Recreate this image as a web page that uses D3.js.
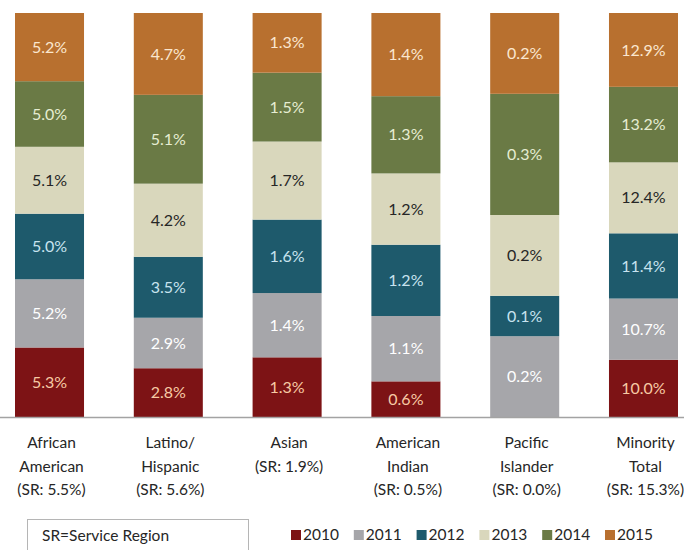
<!DOCTYPE html>
<html lang="en">
  <head>
    <meta charset="UTF-8" />
    <title>Minority share by year</title>
    <script src="https://d3js.org/d3.v7.min.js"></script>
    <style>
      body { margin: 0; background: #fff; }
      text { font-family: Lato, "Open Sans", sans-serif; }
    </style>
  </head>
  <body>
    <svg id="chart" width="684" height="550"></svg>

    <script>
      // Data
      const categories = ["African American", "Latino/Hispanic", "Asian", "American Indian", "Pacific Islander", "Minority Total"];
      const categoryLines = [
        ["African", "American", "(SR: 5.5%)"],
        ["Latino/", "Hispanic", "(SR: 5.6%)"],
        ["Asian", "(SR: 1.9%)"],
        ["American", "Indian", "(SR: 0.5%)"],
        ["Pacific", "Islander", "(SR: 0.0%)"],
        ["Minority", "Total", "(SR: 15.3%)"]
      ];
      const years = ["2010", "2011", "2012", "2013", "2014", "2015"];
      const v2010 = [5.3, 2.8, 1.3, 0.6, 0.0, 10.0];
      const v2011 = [5.2, 2.9, 1.4, 1.1, 0.2, 10.7];
      const v2012 = [5.0, 3.5, 1.6, 1.2, 0.1, 11.4];
      const v2013 = [5.1, 4.2, 1.7, 1.2, 0.2, 12.4];
      const v2014 = [5.0, 5.1, 1.5, 1.3, 0.3, 13.2];
      const v2015 = [5.2, 4.7, 1.3, 1.4, 0.2, 12.9];
      const seriesValues = [v2010, v2011, v2012, v2013, v2014, v2015];

      const colors = ["#7d1315", "#a6a6aa", "#1e5a6c", "#d9d7bc", "#6a7a45", "#b8702f"];
      const labelColors = ["#f7caa4", "#ffffff", "#c8e3ef", "#262626", "#e6edd2", "#fbe7cf"];

      const width = 684, height = 550;
      const svg = d3.select("#chart");

      // table for the stack
      const table = categories.map((c, i) => {
        const row = { category: c };
        years.forEach((y, j) => (row[y] = seriesValues[j][i]));
        return row;
      });

      const stack = d3.stack().keys(years).offset(d3.stackOffsetExpand);
      const series = stack(table);

      const x = d3.scaleBand().domain(categories).range([15, 678]).paddingInner(0.419).paddingOuter(0);
      const y = d3.scaleLinear().domain([0, 1]).range([417, 13]);

      // bars
      const groups = svg
        .selectAll(".series")
        .data(series)
        .enter()
        .append("g")
        .attr("class", "series");

      groups
        .selectAll("rect")
        .data((s, i) => s.map((d) => ({ d, i, key: s.key })))
        .enter()
        .append("rect")
        .attr("x", (p) => x(p.d.data.category))
        .attr("y", (p) => y(p.d[1]))
        .attr("width", x.bandwidth())
        .attr("height", (p) => y(p.d[0]) - y(p.d[1]))
        .attr("fill", (p) => colors[p.i]);

      // value labels
      groups
        .selectAll("text")
        .data((s, i) => s.map((d) => ({ d, i, key: s.key })).filter((p) => p.d.data[p.key] > 0))
        .enter()
        .append("text")
        .attr("x", (p) => x(p.d.data.category) + x.bandwidth() / 2)
        .attr("y", (p) => (y(p.d[0]) + y(p.d[1])) / 2)
        .attr("dy", "0.35em")
        .attr("text-anchor", "middle")
        .attr("font-size", 16)
        .attr("fill", (p) => labelColors[p.i])
        .text((p) => p.d.data[p.key].toFixed(1) + "%");

      // baseline
      svg
        .append("line")
        .attr("x1", 0)
        .attr("x2", width)
        .attr("y1", y(0) + 0.5)
        .attr("y2", y(0) + 0.5)
        .attr("stroke", "#a3a3a3")
        .attr("stroke-width", 1.5);

      // category labels
      const catText = svg
        .selectAll(".cat")
        .data(categories)
        .enter()
        .append("text")
        .attr("class", "cat")
        .attr("text-anchor", "middle")
        .attr("font-size", 15.5)
        .attr("fill", "#262626");
      catText
        .selectAll("tspan")
        .data((c, i) => categoryLines[i].map((t, k) => ({ t, k, c })))
        .enter()
        .append("tspan")
        .attr("x", (p) => x(p.c) + x.bandwidth() / 2 + 2)
        .attr("y", (p) => 443 + p.k * 23.5)
        .attr("dy", "0.35em")
        .text((p) => p.t);

      // SR note box
      svg
        .append("rect")
        .attr("x", 27.5)
        .attr("y", 519.5)
        .attr("width", 221)
        .attr("height", 40)
        .attr("fill", "none")
        .attr("stroke", "#b5b5b5")
        .attr("stroke-width", 1);
      svg
        .append("text")
        .attr("x", 42)
        .attr("y", 536)
        .attr("dy", "0.35em")
        .attr("font-size", 15.5)
        .attr("fill", "#262626")
        .text("SR=Service Region");

      // legend
      const legend = svg
        .selectAll(".legend")
        .data(years)
        .enter()
        .append("g")
        .attr("class", "legend")
        .attr("transform", (d, i) => `translate(${291 + i * 62.8},535)`);
      legend
        .append("rect")
        .attr("x", 0)
        .attr("y", -5)
        .attr("width", 10)
        .attr("height", 10)
        .attr("fill", (d, i) => colors[i]);
      legend
        .append("text")
        .attr("x", 12)
        .attr("y", 0)
        .attr("dy", "0.35em")
        .attr("font-size", 15.5)
        .attr("fill", "#262626")
        .text((d) => d);
    </script>
  </body>
</html>
